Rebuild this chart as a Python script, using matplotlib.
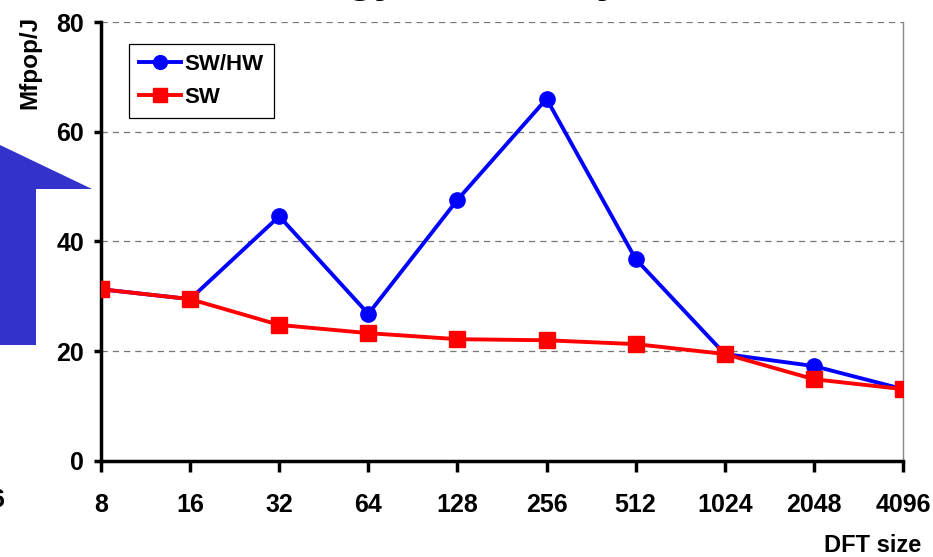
import matplotlib
matplotlib.use("Agg")
import matplotlib.pyplot as plt
from matplotlib.patches import Polygon

plt.rcParams['font.family'] = ['Liberation Sans', 'DejaVu Sans']
plt.rcParams['font.weight'] = 'bold'

# data
dft_sizes = ["8", "16", "32", "64", "128", "256", "512", "1024", "2048", "4096"]
sw_hw = [31.3, 29.5, 44.6, 26.8, 47.6, 66.0, 36.8, 19.5, 17.3, 13.1]
sw = [31.3, 29.5, 24.8, 23.3, 22.2, 22.0, 21.3, 19.5, 14.9, 13.1]
y_ticks = [0, 20, 40, 60, 80]

W, H = 933, 557
fig = plt.figure(figsize=(W / 100, H / 100), dpi=100)
ax = fig.add_axes([101 / W, 1 - 461 / H, (903 - 101) / W, (461 - 22) / H])

x = list(range(len(dft_sizes)))
ax.plot(x, sw_hw, color="#0000ff", lw=2.8, marker="o", ms=11, label="SW/HW", zorder=3)
ax.plot(x, sw, color="#ff0000", lw=2.8, marker="s", ms=11, label="SW", zorder=4)

ax.set_xlim(0, len(dft_sizes) - 1)
ax.set_ylim(0, 80)
ax.set_xticks(x)
ax.set_xticklabels(dft_sizes)
ax.set_yticks(y_ticks)
ax.tick_params(axis="both", labelsize=18, width=2.5, color="black")
ax.tick_params(axis="y", length=5, pad=7)
ax.tick_params(axis="x", length=8, pad=15)
for lab in ax.get_xticklabels() + ax.get_yticklabels():
    lab.set_fontweight("bold")

ax.yaxis.grid(True, linestyle=(0, (5, 4)), color="#777777", lw=0.9)
ax.set_axisbelow(True)
ax.spines["left"].set_linewidth(2.5)
ax.spines["bottom"].set_linewidth(2.5)
ax.spines["top"].set_visible(False)
ax.spines["right"].set_color("#888888")
ax.spines["right"].set_linewidth(1.0)
for sp in ax.spines.values():
    sp.set_clip_on(False)

leg = ax.legend(loc="upper left", bbox_to_anchor=(129 / W, 1 - 44 / H),
                bbox_transform=fig.transFigure, borderaxespad=0,
                fancybox=False, edgecolor="black", framealpha=1,
                prop={"size": 16, "weight": "bold"}, handlelength=1.9,
                handletextpad=0.15, labelspacing=0.55, borderpad=0.45,
                markerscale=0.9)
leg.get_frame().set_linewidth(0.9)

# axis labels
fig.text(30 / W, 1 - 16 / H, "Mfpop/J", rotation=90, ha="center", va="top",
         fontsize=17.5, fontweight="bold")
fig.text(921 / W, 1 - 552 / H, "DFT size", ha="right", va="baseline",
         fontsize=17, fontweight="bold")

# cut-off slide title and decorations
fig.text(248 / W, 1 + 8 / H, "Energy Efficiency", ha="left", va="baseline",
         fontsize=32, fontweight="bold")
fig.text(4 / W, 1 - 500 / H, "6", ha="right", va="center",
         fontsize=18, fontweight="bold")
arrow = Polygon([(0, 145), (92, 189), (36, 189), (36, 345), (0, 345)],
                closed=True, facecolor="#3333cc", edgecolor="none",
                transform=fig.transFigure)
arrow.set_xy([(px / W, 1 - py / H) for px, py in arrow.get_xy()])
fig.patches.append(arrow)

fig.savefig("out.png", dpi=100)
